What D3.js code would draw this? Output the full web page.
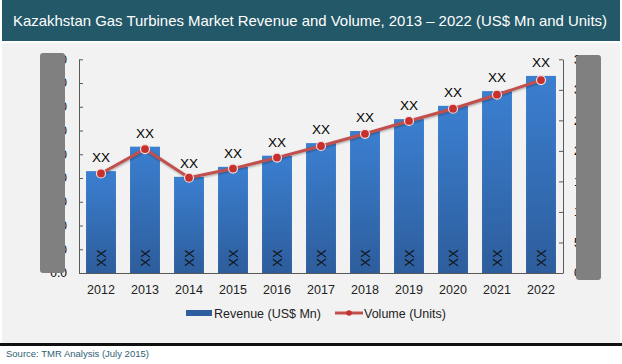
<!DOCTYPE html>
<html><head><meta charset="utf-8">
<script src="https://cdn.jsdelivr.net/npm/d3@7"></script>
<style>body{margin:0;background:#fff}svg{display:block}text{font-family:Arial,"Liberation Sans",sans-serif}</style>
</head><body><svg id="c" width="622" height="364"></svg>
<script>
const categories = ["2012","2013","2014","2015","2016","2017","2018","2019","2020","2021","2022"];
const revenue = [42.9,53.2,40.5,44.7,49.4,54.7,59.8,64.8,70.4,76.6,83.0];
const volume = [16.3,20.3,15.6,17.1,18.9,20.8,22.8,24.9,26.9,29.2,31.6];
const leftTicks = [0,10,20,30,40,50,60,70,80,90];
const rightTicks = [0,5,10,15,20,25,30,35];
const title = "Kazakhstan Gas Turbines Market Revenue and Volume, 2013 \u2013 2022 (US$ Mn and Units)";
const source = "Source: TMR Analysis (July 2015)";
const barLabel = "XX";

const svg = d3.select("#c");
// backgrounds
svg.append("rect").attr("x",2).attr("y",0).attr("width",618).attr("height",41).attr("fill","#235868");
svg.append("rect").attr("x",2).attr("y",43).attr("width",618).attr("height",300).attr("fill","#f2f2f2");
svg.append("rect").attr("x",0).attr("y",343).attr("width",622).attr("height",3).attr("fill","#111");
svg.append("text").attr("x",13).attr("y",26).attr("fill","#fff").attr("font-size","15px")
  .attr("textLength",594).attr("lengthAdjust","spacingAndGlyphs").text(title);
svg.append("text").attr("x",6).attr("y",357).attr("fill","#2f5f73").attr("font-size","9.5px").text(source);

const L=79,R=563,T=59.3,B=273;
const x = d3.scaleBand().domain(categories).range([L,R]).paddingInner(0.32).paddingOuter(0.16);
const y = d3.scaleLinear().domain([0,90]).range([B,T]);
const y2 = d3.scaleLinear().domain([0,35]).range([B,T]);

const defs = svg.append("defs");
const g = defs.append("linearGradient").attr("id","bg").attr("x1",0).attr("y1",0).attr("x2",0).attr("y2",1);
g.append("stop").attr("offset","0%").attr("stop-color","#3b7fd0");
g.append("stop").attr("offset","100%").attr("stop-color","#2d5d9c");
const sh = defs.append("filter").attr("id","sh").attr("x","-50%").attr("y","-50%").attr("width","200%").attr("height","200%");
sh.append("feDropShadow").attr("dx",0.5).attr("dy",1).attr("stdDeviation",0.8).attr("flood-opacity",0.35);

// bars
svg.append("g").selectAll("rect").data(categories).join("rect")
  .attr("x",d=>x(d)).attr("width",x.bandwidth())
  .attr("y",(d,i)=>y(revenue[i])).attr("height",(d,i)=>B-y(revenue[i]))
  .attr("fill","url(#bg)");

// axes
const axL = svg.append("g").attr("transform",`translate(${L},0)`)
  .call(d3.axisLeft(y).tickValues(leftTicks).tickFormat(d3.format(".1f")).tickSizeInner(-4).tickSizeOuter(0).tickPadding(12));
const axR = svg.append("g").attr("transform",`translate(${R},0)`)
  .call(d3.axisRight(y2).tickValues(rightTicks).tickFormat(d3.format("d")).tickSizeInner(-4).tickSizeOuter(0).tickPadding(11));
[axL,axR].forEach(a=>{a.select(".domain").attr("stroke","#595959");a.selectAll(".tick line").attr("stroke","#595959");
  a.selectAll("text").attr("font-size","12px").attr("fill","#000").attr("font-family","Arial, 'Liberation Sans', sans-serif");});
svg.append("line").attr("x1",L).attr("x2",R).attr("y1",B+0.5).attr("y2",B+0.5).attr("stroke","#595959");

// x labels
svg.append("g").selectAll("text").data(categories).join("text")
  .attr("x",d=>x(d)+x.bandwidth()/2).attr("y",294).attr("text-anchor","middle")
  .attr("font-size","12.5px").attr("fill","#222").text(d=>d);

// gray masks over axis labels
svg.append("rect").attr("x",40).attr("y",53).attr("width",25).attr("height",220).attr("rx",3).attr("fill","#808080");
svg.append("rect").attr("x",576).attr("y",55).attr("width",25).attr("height",225).attr("rx",3).attr("fill","#808080");

// labels above bars
svg.append("g").selectAll("text").data(categories).join("text")
  .attr("x",d=>x(d)+x.bandwidth()/2).attr("y",(d,i)=>y(revenue[i])-9).attr("text-anchor","middle")
  .attr("font-size","13.5px").attr("fill","#000").text(barLabel);
// labels inside bars (rotated)
svg.append("g").selectAll("text").data(categories).join("text")
  .attr("transform",d=>`translate(${x(d)+x.bandwidth()/2+5},258) rotate(-90)`).attr("text-anchor","middle")
  .attr("font-size","13px").attr("fill","#111").text(barLabel);

// line
const line = d3.line().x((d,i)=>x(categories[i])+x.bandwidth()/2).y(d=>y2(d));
svg.append("path").datum(volume).attr("d",line).attr("fill","none").attr("stroke","#c0504d").attr("stroke-width",3).attr("filter","url(#sh)");
svg.append("g").selectAll("circle").data(volume).join("circle")
  .attr("cx",(d,i)=>x(categories[i])+x.bandwidth()/2).attr("cy",d=>y2(d)).attr("r",4.5)
  .attr("fill","#c8302e").attr("stroke","#f4dede").attr("stroke-width",1.2);

// legend
const lg = svg.append("g");
lg.append("rect").attr("x",186).attr("y",310).attr("width",26).attr("height",6).attr("fill","#2e5e9e");
lg.append("text").attr("x",214).attr("y",318).attr("font-size","12.5px").attr("fill","#222").text("Revenue (US$ Mn)");
lg.append("line").attr("x1",335).attr("x2",363).attr("y1",313).attr("y2",313).attr("stroke","#c0504d").attr("stroke-width",3);
lg.append("circle").attr("cx",349).attr("cy",313).attr("r",2.8).attr("fill","#c8302e");
lg.append("text").attr("x",364).attr("y",318).attr("font-size","12.5px").attr("fill","#222").text("Volume (Units)");
</script></body></html>
